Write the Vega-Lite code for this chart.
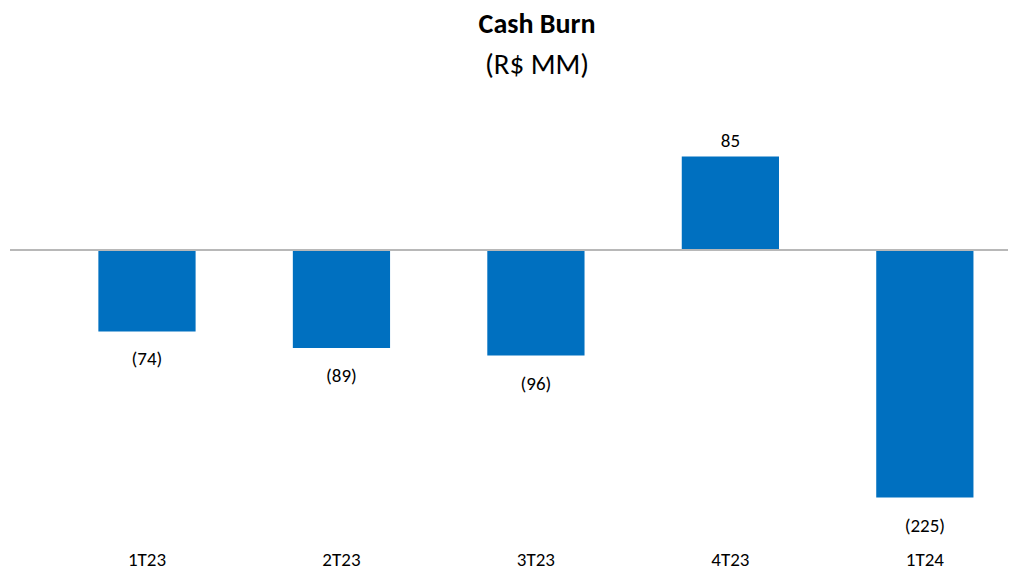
{
  "$schema": "https://vega.github.io/schema/vega-lite/v6.json",
  "width": 998,
  "height": 429,
  "autosize": {"type": "none"},
  "padding": {"left": 10, "right": 9, "top": 107, "bottom": 33},
  "background": "white",
  "title": {
    "text": "Cash Burn",
    "subtitle": "(R$ MM)",
    "font": "Carlito, Lato",
    "subtitleFont": "Carlito, Lato",
    "fontSize": 28,
    "subtitleFontSize": 29,
    "fontWeight": "bold",
    "subtitleFontWeight": "normal",
    "color": "#000000",
    "subtitleColor": "#000000",
    "anchor": "middle",
    "dx": 28,
    "offset": 27,
    "subtitlePadding": 12
  },
  "data": {
    "values": [
      {"quarter": "1T23", "value": -74, "label": "(74)"},
      {"quarter": "2T23", "value": -89, "label": "(89)"},
      {"quarter": "3T23", "value": -96, "label": "(96)"},
      {"quarter": "4T23", "value": 85, "label": "85"},
      {"quarter": "1T24", "value": -225, "label": "(225)"}
    ]
  },
  "encoding": {
    "x": {
      "field": "quarter",
      "type": "nominal",
      "sort": null,
      "scale": {"paddingInner": 0.5, "paddingOuter": 0.316, "align": 0.719},
      "axis": {
        "title": null,
        "domain": false,
        "ticks": false,
        "grid": false,
        "labelAngle": 0,
        "labelFont": "Carlito, Lato",
        "labelFontSize": 19,
        "labelColor": "#000000",
        "labelPadding": 14
      }
    }
  },
  "layer": [
    {
      "mark": {"type": "bar", "color": "#0070C0"},
      "encoding": {
        "y": {"field": "value", "type": "quantitative", "scale": {"domain": [-260, 130], "nice": false, "zero": true}, "axis": null}
      }
    },
    {
      "mark": {"type": "rule", "color": "#B8B8B8", "strokeWidth": 2},
      "encoding": {"y": {"datum": 0, "type": "quantitative"}, "x": {"value": 0}, "x2": {"value": 998}}
    },
    {
      "transform": [{"filter": "datum.value < 0"}],
      "mark": {"type": "text", "baseline": "top", "dy": 19, "font": "Carlito, Lato", "fontSize": 19, "color": "#000000"},
      "encoding": {
        "y": {"field": "value", "type": "quantitative"},
        "text": {"field": "label", "type": "nominal"}
      }
    },
    {
      "transform": [{"filter": "datum.value >= 0"}],
      "mark": {"type": "text", "baseline": "alphabetic", "dy": -10, "font": "Carlito, Lato", "fontSize": 19, "color": "#000000"},
      "encoding": {
        "y": {"field": "value", "type": "quantitative"},
        "text": {"field": "label", "type": "nominal"}
      }
    }
  ],
  "config": {"view": {"stroke": null}}
}
